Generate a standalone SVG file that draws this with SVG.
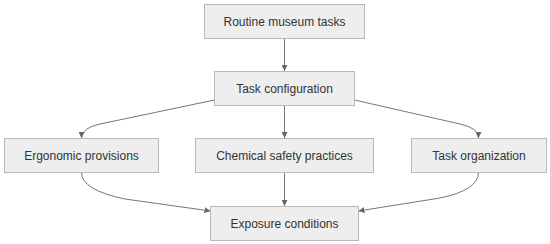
<svg xmlns="http://www.w3.org/2000/svg" width="550" height="244" viewBox="0 0 550 244">
<style>
.node rect{fill:#eeeeee;stroke:#b8b8b8;stroke-width:1}
.node text{font-family:"Liberation Sans",Arial,sans-serif;font-size:12px;fill:#333;text-anchor:middle;dominant-baseline:central}
.edge{fill:none;stroke:#777;stroke-width:1}
</style>
<defs>
<marker id="arr" viewBox="0 0 10 10" refX="10" refY="5" markerWidth="6" markerHeight="6" markerUnits="userSpaceOnUse" orient="auto">
<path d="M0,0 L10,5 L0,10 z" fill="#666"/>
</marker>
</defs>
<rect width="550" height="244" fill="#ffffff"/>
<g id="connectors">
<path class="edge" d="M284.5,38.5 L284.5,71" marker-end="url(#arr)"/>
<path class="edge" d="M214.5,100 L100,124 Q81.5,128 81.5,138" marker-end="url(#arr)"/>
<path class="edge" d="M284.5,105.5 L284.5,138" marker-end="url(#arr)"/>
<path class="edge" d="M354.5,100 L460,124 Q478.5,128 478.5,138" marker-end="url(#arr)"/>
<path class="edge" d="M81.5,172.5 Q81.5,190 125,199 L210.5,211" marker-end="url(#arr)"/>
<path class="edge" d="M284.5,172.5 L284.5,206" marker-end="url(#arr)"/>
<path class="edge" d="M478.5,172.5 Q478.5,190 440,198 L358.5,211" marker-end="url(#arr)"/>
</g>
<g id="routine" class="node"><rect x="204.5" y="4.5" width="160" height="34"/><text x="284.5" y="21.5">Routine museum tasks</text></g>
<g id="taskconfig" class="node"><rect x="214.5" y="71.5" width="140" height="34"/><text x="284.5" y="88.5">Task configuration</text></g>
<g id="ergonomic" class="node"><rect x="4.5" y="138.5" width="154" height="34"/><text x="81.5" y="155.5">Ergonomic provisions</text></g>
<g id="chemical" class="node"><rect x="195.5" y="138.5" width="178" height="34"/><text x="284.5" y="155.5">Chemical safety practices</text></g>
<g id="taskorg" class="node"><rect x="411.5" y="138.5" width="135" height="34"/><text x="479" y="155.5">Task organization</text></g>
<g id="exposure" class="node"><rect x="210.5" y="206.5" width="148" height="34"/><text x="284.5" y="223.5">Exposure conditions</text></g>
</svg>
